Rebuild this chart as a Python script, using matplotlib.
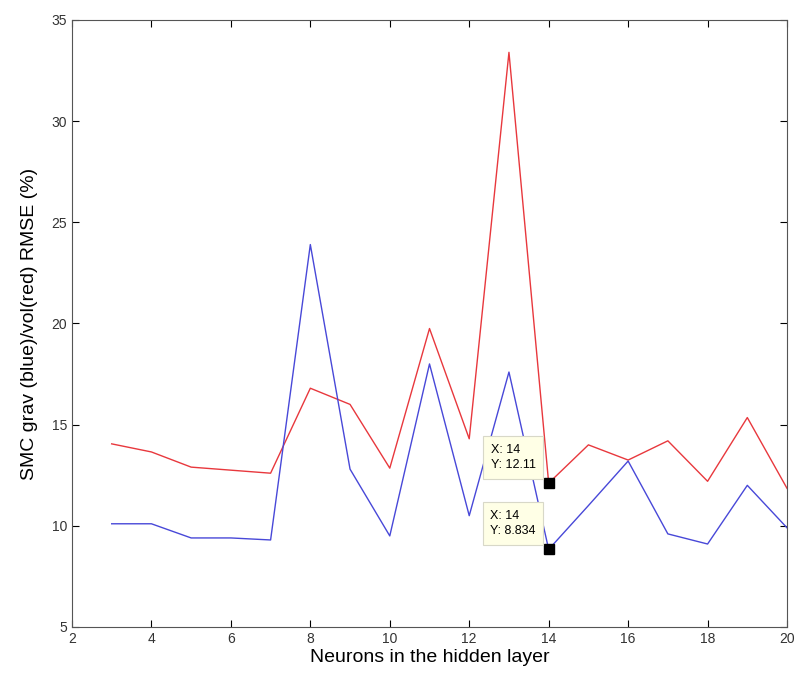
import matplotlib
matplotlib.use("Agg")
import matplotlib.pyplot as plt

plt.rcParams["font.family"] = ["Liberation Sans", "DejaVu Sans"]

neurons = list(range(3, 21))
rmse_vol = [14.05, 13.65, 12.9, 12.75, 12.6, 16.8, 16.0, 12.85, 19.75, 14.3,
            33.4, 12.11, 14.0, 13.25, 14.2, 12.2, 15.35, 11.85]
rmse_grav = [10.1, 10.1, 9.4, 9.4, 9.3, 23.9, 12.8, 9.5, 18.0, 10.5,
             17.6, 8.834, 11.0, 13.2, 9.6, 9.1, 12.0, 9.9]
tip_x = 14
tip_vals = [12.11, 8.834]

fig = plt.figure(figsize=(7.97, 6.77), dpi=100)
ax = fig.add_axes([0.0903, 0.0739, 0.8972, 0.8966])

ax.plot(neurons, rmse_vol, color="#e8383d", linewidth=1.0)
ax.plot(neurons, rmse_grav, color="#4848d8", linewidth=1.0)

for v in tip_vals:
    ax.plot([tip_x], [v], marker="s", color="black", markersize=7, linestyle="none")
    ax.annotate(f"X: {tip_x}\nY: {v:g}", xy=(tip_x, v), xytext=(-13, 12),
                textcoords="offset pixels", ha="right", va="bottom",
                multialignment="left", fontsize=9, linespacing=1.4,
                bbox=dict(boxstyle="square,pad=0.6", fc="#ffffe6", ec="#d8d8c8", lw=0.8))

ax.set_xlim(2, 20)
ax.set_ylim(5, 35)
ax.set_xticks(range(2, 21, 2))
ax.set_yticks(range(5, 36, 5))
ax.tick_params(direction="in", top=True, right=True, labelsize=10, length=5,
               labelcolor="#333333")
for s in ax.spines.values():
    s.set_color("#555555")
ax.set_xlabel("Neurons in the hidden layer", fontsize=14, labelpad=2)
ax.set_ylabel("SMC grav (blue)/vol(red) RMSE (%)", fontsize=14, labelpad=10)

fig.savefig("out.png", dpi=100)
